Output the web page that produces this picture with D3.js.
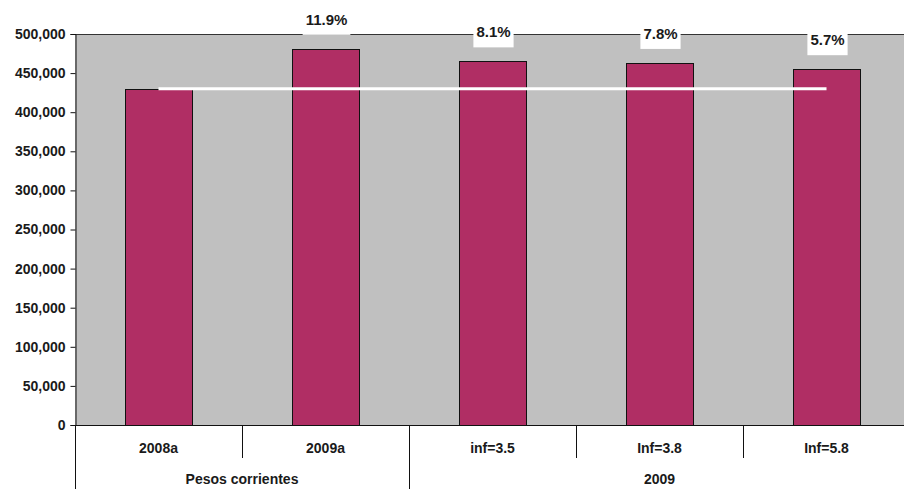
<!DOCTYPE html>
<html>
<head>
<meta charset="utf-8">
<script src="https://cdn.jsdelivr.net/npm/d3@7/dist/d3.min.js"></script>
<style>
  html, body { margin: 0; padding: 0; background: #fff; }
  svg { display: block; }
  text { font-family: "Liberation Sans", Arial, sans-serif; font-weight: bold; fill: #1a1a1a; }
</style>
</head>
<body>
<svg id="chart" width="904" height="489"></svg>
<script>
// Category labels along the x axis and their groups
const categories = ["2008a", "2009a", "inf=3.5", "Inf=3.8", "Inf=5.8"];
const groups = [
  { label: "Pesos corrientes", from: 0, to: 2 },
  { label: "2009", from: 2, to: 5 }
];
// Bar values
const values = [430000, 481000, 465000, 463000, 455000];
// Reference line (2008 level) drawn across all categories
const baseline = [430000, 430000, 430000, 430000, 430000];
// Growth labels above bars (null = no label)
const growthLabels = [null, "11.9%", "8.1%", "7.8%", "5.7%"];
// Y axis ticks
const yTicks = [0, 50000, 100000, 150000, 200000, 250000, 300000, 350000, 400000, 450000, 500000];

const svg = d3.select("#chart");
const margin = { left: 75, top: 34, right: -6, bottom: 64 };
const W = 904, H = 489;
const x0 = margin.left, x1 = W - margin.right;
const yTop = margin.top, yBot = H - margin.bottom;

const x = d3.scaleBand().domain(categories).range([x0, x1]).paddingInner(0.6).paddingOuter(0.3);
const xBand = d3.scaleBand().domain(categories).range([x0, x1]).padding(0);
const y = d3.scaleLinear().domain([0, 500000]).range([yBot, yTop]);

// Plot area background
svg.append("rect")
  .attr("x", x0).attr("y", yTop)
  .attr("width", x1 - x0).attr("height", yBot - yTop)
  .attr("fill", "#c0c0c0");

// Top border
svg.append("line")
  .attr("x1", x0).attr("x2", x1)
  .attr("y1", yTop + 0.5).attr("y2", yTop + 0.5)
  .attr("stroke", "#333").attr("stroke-width", 1);

// Bars
svg.append("g").selectAll("rect")
  .data(values)
  .join("rect")
  .attr("x", (d, i) => Math.round(x(categories[i])) + 0.5)
  .attr("y", d => Math.round(y(d)) + 0.5)
  .attr("width", Math.round(x.bandwidth()))
  .attr("height", d => yBot - Math.round(y(d)))
  .attr("fill", "#b02e64")
  .attr("stroke", "#111")
  .attr("stroke-width", 1);

// Reference line
const line = d3.line()
  .x((d, i) => xBand(categories[i]) + xBand.bandwidth() / 2)
  .y(d => y(d));
svg.append("path")
  .datum(baseline)
  .attr("d", line)
  .attr("fill", "none")
  .attr("stroke", "#ffffff")
  .attr("stroke-width", 3);

// Growth labels with white boxes
const lbl = svg.append("g");
growthLabels.forEach((t, i) => {
  if (!t) return;
  const cx = xBand(categories[i]) + xBand.bandwidth() / 2 + 1;
  const cy = y(values[i]) - 29;
  const g = lbl.append("g");
  const txt = g.append("text")
    .attr("x", cx).attr("y", cy + 5)
    .attr("text-anchor", "middle")
    .attr("font-size", 15)
    .text(t);
  const bb = txt.node().getBBox();
  g.insert("rect", "text")
    .attr("x", bb.x - 3).attr("y", cy - 12)
    .attr("width", bb.width + 6).attr("height", 27)
    .attr("fill", "#fff");
});

// Y axis
const yAxis = d3.axisLeft(y)
  .tickValues(yTicks)
  .tickSize(5)
  .tickPadding(5)
  .tickFormat(d3.format(",.0f"));
const ya = svg.append("g")
  .attr("transform", `translate(${x0 + 0.5},0)`)
  .call(yAxis);
ya.select(".domain").attr("stroke", "#111");
ya.selectAll(".tick line").attr("stroke", "#111");
ya.selectAll(".tick text")
  .attr("font-size", 14)
  .attr("font-family", "Liberation Sans, Arial, sans-serif")
  .attr("font-weight", "bold")
  .attr("fill", "#1a1a1a");

// X axis baseline
svg.append("line")
  .attr("x1", x0).attr("x2", x1)
  .attr("y1", yBot + 0.5).attr("y2", yBot + 0.5)
  .attr("stroke", "#111");

// Category separators
categories.slice(1).forEach(c => {
  const xx = Math.round(xBand(c)) + 0.5;
  svg.append("line")
    .attr("x1", xx).attr("x2", xx)
    .attr("y1", yBot).attr("y2", yBot + 33)
    .attr("stroke", "#111");
});

// Group separators
groups.forEach(gr => {
  const xx = Math.round(xBand(categories[gr.from])) + 0.5;
  svg.append("line")
    .attr("x1", xx).attr("x2", xx)
    .attr("y1", yBot).attr("y2", H)
    .attr("stroke", "#111");
});

// Category labels
svg.append("g").selectAll("text")
  .data(categories)
  .join("text")
  .attr("x", d => xBand(d) + xBand.bandwidth() / 2)
  .attr("y", yBot + 28)
  .attr("text-anchor", "middle")
  .attr("font-size", 14)
  .text(d => d);

// Group labels
svg.append("g").selectAll("text")
  .data(groups)
  .join("text")
  .attr("x", d => (xBand(categories[d.from]) + xBand(categories[d.to - 1]) + xBand.bandwidth()) / 2)
  .attr("y", yBot + 59)
  .attr("text-anchor", "middle")
  .attr("font-size", 14)
  .text(d => d.label);
</script>
</body>
</html>
